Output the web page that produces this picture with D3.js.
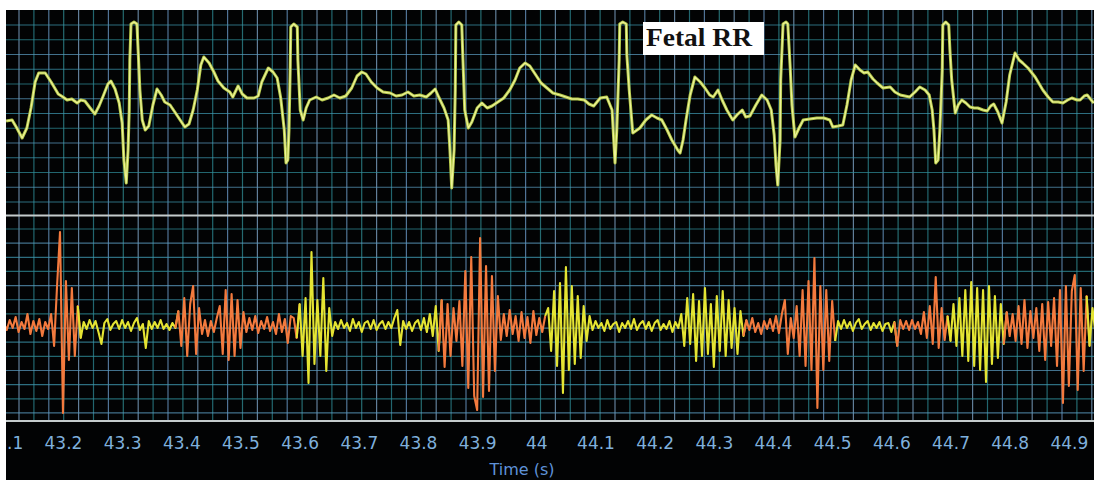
<!DOCTYPE html>
<html>
<head>
<meta charset="utf-8">
<script src="https://cdn.jsdelivr.net/npm/d3@7"></script>
<style>
  html, body { margin: 0; padding: 0; background: #fff; }
  svg { display: block; }
</style>
</head>
<body>
<svg id="chart" width="1094" height="480"></svg>
<script>
// time axis (s)
const tickValues = [43.1, 43.2, 43.3, 43.4, 43.5, 43.6, 43.7, 43.8, 43.9, 44.0,
  44.1, 44.2, 44.3, 44.4, 44.5, 44.6, 44.7, 44.8, 44.9];
const tickLabels = ['43.1', '43.2', '43.3', '43.4', '43.5', '43.6', '43.7', '43.8', '43.9', '44',
  '44.1', '44.2', '44.3', '44.4', '44.5', '44.6', '44.7', '44.8', '44.9'];

// fetal ECG: [ms after 43.1 s, amplitude]
const ecgPoints = [
  [4, -6], [14, -5], [22, -13], [31, -23], [39, -13], [46, 7], [53, 33], [59, 42], [70, 42], [80, 33],
  [92, 21], [100, 18], [107, 15], [115, 16], [124, 12], [130, 15], [137, 14], [146, 7], [154, 1], [161, 9],
  [168, 19], [176, 31], [181, 34], [188, 26], [195, 12], [200, -8], [203, -45], [207, -68], [210, -35], [212, 5],
  [213, 55], [215, 91], [220, 93], [225, 91], [227, 65], [230, 25], [234, -5], [239, -15], [245, -11], [252, 10],
  [259, 26], [266, 20], [272, 13], [281, 10], [289, 3], [298, -5], [306, -12], [313, -9], [320, 5], [327, 25],
  [333, 50], [338, 58], [347, 52], [355, 43], [362, 34], [372, 27], [382, 23], [387, 18], [396, 29], [403, 21],
  [411, 17], [423, 17], [430, 19], [436, 33], [447, 47], [455, 43], [462, 37], [468, 17], [474, -15], [477, -48],
  [480, -45], [482, -15], [484, 45], [485, 88], [490, 91], [496, 88], [497, 55], [501, 5], [506, -5], [511, 7],
  [517, 15], [528, 18], [538, 15], [548, 17], [558, 20], [568, 17], [578, 19], [588, 27], [597, 39], [605, 43],
  [612, 41], [621, 33], [631, 27], [641, 23], [653, 22], [663, 19], [673, 20], [683, 23], [693, 19], [703, 20],
  [714, 18], [722, 22], [729, 26], [735, 18], [744, 7], [751, -5], [754, -35], [757, -73], [761, -35], [763, 25],
  [764, 90], [769, 93], [774, 90], [776, 55], [779, 5], [785, -13], [791, -7], [800, 7], [808, 12], [817, 7],
  [825, 9], [835, 13], [845, 17], [855, 25], [864, 35], [872, 47], [881, 52], [889, 49], [898, 41], [908, 32],
  [918, 27], [928, 22], [940, 20], [950, 18], [960, 16], [970, 16], [981, 15], [989, 11], [997, 9], [1008, 17],
  [1019, 18], [1028, 5], [1033, -48], [1036, -15], [1040, 55], [1041, 91], [1046, 93], [1052, 91], [1053, 60], [1057, 25],
  [1063, -18], [1075, -13], [1085, -5], [1095, 0], [1104, -3], [1112, -5], [1121, -15], [1129, -25], [1139, -35], [1143, -38],
  [1148, -25], [1153, -5], [1160, 20], [1168, 38], [1177, 33], [1185, 27], [1193, 20], [1199, 18], [1207, 25], [1214, 15],
  [1222, 5], [1232, -5], [1239, 0], [1248, 5], [1254, -2], [1261, -1], [1271, 10], [1281, 20], [1290, 15], [1297, 5],
  [1302, -20], [1305, -50], [1308, -70], [1312, -25], [1313, 35], [1317, 91], [1322, 93], [1325, 91], [1329, 48], [1332, 10],
  [1337, -22], [1344, -13], [1351, -5], [1362, -4], [1374, -3], [1386, -3], [1396, -5], [1401, -12], [1410, -11], [1418, -10],
  [1425, 10], [1432, 35], [1439, 50], [1447, 45], [1454, 42], [1460, 43], [1469, 36], [1476, 32], [1486, 27], [1498, 28],
  [1506, 23], [1515, 20], [1523, 19], [1531, 18], [1540, 23], [1548, 28], [1557, 25], [1564, 20], [1569, 5], [1572, -15],
  [1575, -48], [1579, -45], [1582, -15], [1586, 45], [1587, 90], [1592, 93], [1597, 90], [1599, 65], [1602, 35], [1608, 2],
  [1613, 10], [1619, 15], [1626, 12], [1633, 8], [1640, 7], [1646, 7], [1655, 5], [1662, 4], [1668, 9], [1673, 11],
  [1680, 3], [1687, -8], [1694, 13], [1700, 40], [1709, 62], [1716, 55], [1722, 52], [1731, 47], [1743, 38], [1749, 32],
  [1756, 25], [1765, 18], [1773, 13], [1782, 13], [1790, 12], [1798, 15], [1805, 17], [1814, 15], [1819, 15], [1826, 19],
  [1831, 20], [1842, 12]
];

// abdominal signal, one sample every 5 ms from 43.1 s
const sampleStepMs = 5;
const abdSamples = [
  3, -4, 6, -2, 9, -6, 4, -3, 12, -8, 5, -5, 7, -10, 4, -3,
  12, -20, 40, 94, -87, 45, -34, 38, -30, 20, -12,
  4, -3, 6, -2, 5, -6, -18, 3, 7, -4, 2, 5, -3, 6, -2, 4, -5, 3, 8, -4, 2, -22, 5, -3, 4, -2, 6, -3, 2, -4, 3, -2,
  15, -20, 28, -30, 22, 40, -28, 18,
  -8, 6, -10, 5, -6, 8,
  20, -28, 36, -34, 32, -30, 26, -22, 14,
  -6, 8, -4, 10, -7, 5, -3, 9, -5, 4, -8, 12, -6, 7, -17, 10,
  8, -12, 22, -30, 28, -57, 74, -38, 26, -30, 48, -45, 18, -10,
  4, -3, 6, -2, 3, -5, 7, -2, 4, -6, 3, 5, -3, 6, -4, 2, 5, -3, 4, -2, 8, 16, -19, 5, -3, 4, -5, 3, 6, -4, 8, -6, 12, -10,
  20, -25, 26, -41, 22, -30, 18, -15,
  25, -40, 55, -62, 69, -70, -84, 88, -71, 60, -65, 50, -45, 30,
  -14, 12, -10, 16, -8, 10, -15, 14, -12, 9, -17, 15, -9, 8, -6, 10,
  18, -25, 35, -40, 43, -67, 59, -44, 40, -38, 30, -32, 20, -15, 10,
  -4, 5, -2, 3, -5, 6, -3, 2, 4, -6, 3, -2, 5, -3, 7, -4, 2, 5, -3, 4, -5, 3, 6, -4, 2, -3, 5, -6, 4, -2,
  12, -20, 28, -18, 32, -35, 25, -30, 38, -28, 22, -41, 30, -25, 35, -30, 26, -22, 18, -28, 15, -10,
  6, -4, 8, -6, 3, -8, 5, -3, 7, -5, 10, -7, 12, 26, -28, 8,
  -12, 20, -30, 36, -40, 45, -44, 68, -82, 40, -44, 36, -35, 25, -15,
  5, -3, 6, -2, 4, -5, 3, 7, -3, 2, 5, -4, 3, -2, 4, -5, 2, 3, -6, 4, -20, 6, -3, 5, -4, 6, -3, 4,
  -8, 14, -12, 20, -18, 49, -22, 18, -14,
  10, -15, 22, -20, 28, -30, 36, -35, 44, -40, 38, -44, 36, -56, 40, -38, 30, -32, 22, -18, 14, -10,
  12, -15, 20, -18, 26, -22, 15, -12, 18, -25, 22, -34, 24, -20, 28,
  -40, 36, -77, 40, -60, 35, 51, -64, 38, -45, 30,
  -20, 18, -8
];

// colour of each stretch of the abdominal signal: [from ms, to ms, colour]
const abdSegments = [
  [0, 129, '#f37a3e'], [129, 294, '#e4e433'], [294, 497, '#f37a3e'], [497, 737, '#e4e433'],
  [737, 915, '#f37a3e'], [915, 1252, '#e4e433'], [1252, 1405, '#f37a3e'], [1405, 1506, '#e4e433'],
  [1506, 1599, '#f37a3e'], [1599, 1692, '#e4e433'], [1692, 1831, '#f37a3e'], [1831, 1850, '#e4e433']
];

const svg = d3.select('#chart');
const W = 1094, H = 480;
const padLeft = 6, padTop = 10;
const topPanel = { y0: 10, y1: 216 };
const botPanel = { y0: 216, y1: 421 };

// 591.7 px per second, 43.1 s sits just left of the frame
const x = d3.scaleLinear().domain([43.1, 44.95]).range([3.8, 3.8 + 1.85 * 591.7]);
const yTop = d3.scaleLinear().domain([-101, 105]).range([topPanel.y1, topPanel.y0]);
const yBot = d3.scaleLinear().domain([-95, 110]).range([botPanel.y1, botPanel.y0]);
const tOf = (ms) => 43.1 + ms / 1000;

// white page, black scope screen
svg.append('rect').attr('width', W).attr('height', H).attr('fill', '#fff');
svg.append('rect').attr('x', padLeft).attr('y', padTop).attr('width', W - padLeft).attr('height', H - padTop).attr('fill', '#020304');

const defs = svg.append('defs');
defs.append('clipPath').attr('id', 'clipTop').append('rect')
  .attr('x', padLeft).attr('y', topPanel.y0).attr('width', W - padLeft).attr('height', topPanel.y1 - topPanel.y0);
defs.append('clipPath').attr('id', 'clipBot').append('rect')
  .attr('x', padLeft).attr('y', botPanel.y0).attr('width', W - padLeft).attr('height', botPanel.y1 - botPanel.y0);

// grid
const grid = svg.append('g').attr('stroke-opacity', 0.72);
const vCols = ['#86aed2', '#2f8d98', '#6f9fcf', '#33939a'];
d3.range(19, W, 14.9).forEach((gx, i) => {
  grid.append('line')
    .attr('x1', gx).attr('x2', gx).attr('y1', padTop).attr('y2', botPanel.y1)
    .attr('stroke', vCols[i % 4]).attr('stroke-width', 1.2);
});
const hCols = ['#3f98b0', '#2f8e98', '#5c9cc0'];
d3.range(25, topPanel.y1 - 5, 14.75).forEach((gy, i) => {
  grid.append('line')
    .attr('x1', padLeft).attr('x2', W).attr('y1', gy).attr('y2', gy)
    .attr('stroke', hCols[i % 3]).attr('stroke-width', 1.2);
});
d3.range(229, botPanel.y1 - 4, 14.15).forEach((gy, i) => {
  grid.append('line')
    .attr('x1', padLeft).attr('x2', W).attr('y1', gy).attr('y2', gy)
    .attr('stroke', hCols[(i + 1) % 3]).attr('stroke-width', 1.2);
});

// panel borders
[topPanel.y1 - 0.5, botPanel.y1].forEach((by) => {
  svg.append('line').attr('x1', padLeft).attr('x2', W).attr('y1', by).attr('y2', by)
    .attr('stroke', '#c4cbcc').attr('stroke-width', 2.2);
});

// fetal ECG
const ecgLine = d3.line().x((d) => x(tOf(d[0]))).y((d) => yTop(d[1]));
const gTop = svg.append('g').attr('clip-path', 'url(#clipTop)');
gTop.append('path').datum(ecgPoints).attr('d', ecgLine)
  .attr('fill', 'none').attr('stroke', '#b4c84a').attr('stroke-width', 3).attr('stroke-linejoin', 'round');
gTop.append('path').datum(ecgPoints).attr('d', ecgLine)
  .attr('fill', 'none').attr('stroke', '#eef39a').attr('stroke-width', 1.2).attr('stroke-linejoin', 'round');

// abdominal signal, coloured per stretch
const abdPoints = abdSamples.map((v, i) => [i * sampleStepMs, v]);
const abdLine = d3.line().x((d) => x(tOf(d[0]))).y((d) => yBot(d[1]));
const gBot = svg.append('g').attr('clip-path', 'url(#clipBot)');
abdSegments.forEach(([a, b, col]) => {
  const i0 = Math.max(0, Math.floor(a / sampleStepMs));
  const i1 = Math.min(abdPoints.length - 1, Math.ceil(b / sampleStepMs));
  gBot.append('path').datum(abdPoints.slice(i0, i1 + 1)).attr('d', abdLine)
    .attr('fill', 'none').attr('stroke', col).attr('stroke-width', 2.1).attr('stroke-linejoin', 'round');
});

// label box
const lab = svg.append('g');
lab.append('rect').attr('x', 643).attr('y', 22).attr('width', 121).attr('height', 33).attr('fill', '#fff');
lab.append('text').attr('x', 646).attr('y', 46)
  .attr('font-family', '"Liberation Serif", "Times New Roman", serif').attr('font-weight', 'bold')
  .attr('font-size', 26).attr('textLength', 106).attr('lengthAdjust', 'spacingAndGlyphs')
  .attr('fill', '#111').text('Fetal RR');

// time axis
const axis = d3.axisBottom(x).tickValues(tickValues)
  .tickFormat((d, i) => tickLabels[i]).tickSize(0).tickPadding(0);
const gAxis = svg.append('g').attr('transform', 'translate(0,437)').call(axis);
gAxis.select('.domain').remove();
gAxis.selectAll('text')
  .attr('fill', '#7fb0dc').attr('font-family', '"DejaVu Sans", Verdana, sans-serif').attr('font-size', 17);

svg.append('text').attr('x', 522).attr('y', 475).attr('text-anchor', 'middle')
  .attr('font-family', '"DejaVu Sans", Verdana, sans-serif').attr('font-size', 16)
  .attr('fill', '#5f92d8').text('Time (s)');

// white frame edges drawn last so the 43.1 label is cut like the original
svg.append('rect').attr('x', 0).attr('y', 0).attr('width', padLeft).attr('height', H).attr('fill', '#fff');
svg.append('rect').attr('x', 0).attr('y', 0).attr('width', W).attr('height', padTop).attr('fill', '#fff');
</script>
</body>
</html>
